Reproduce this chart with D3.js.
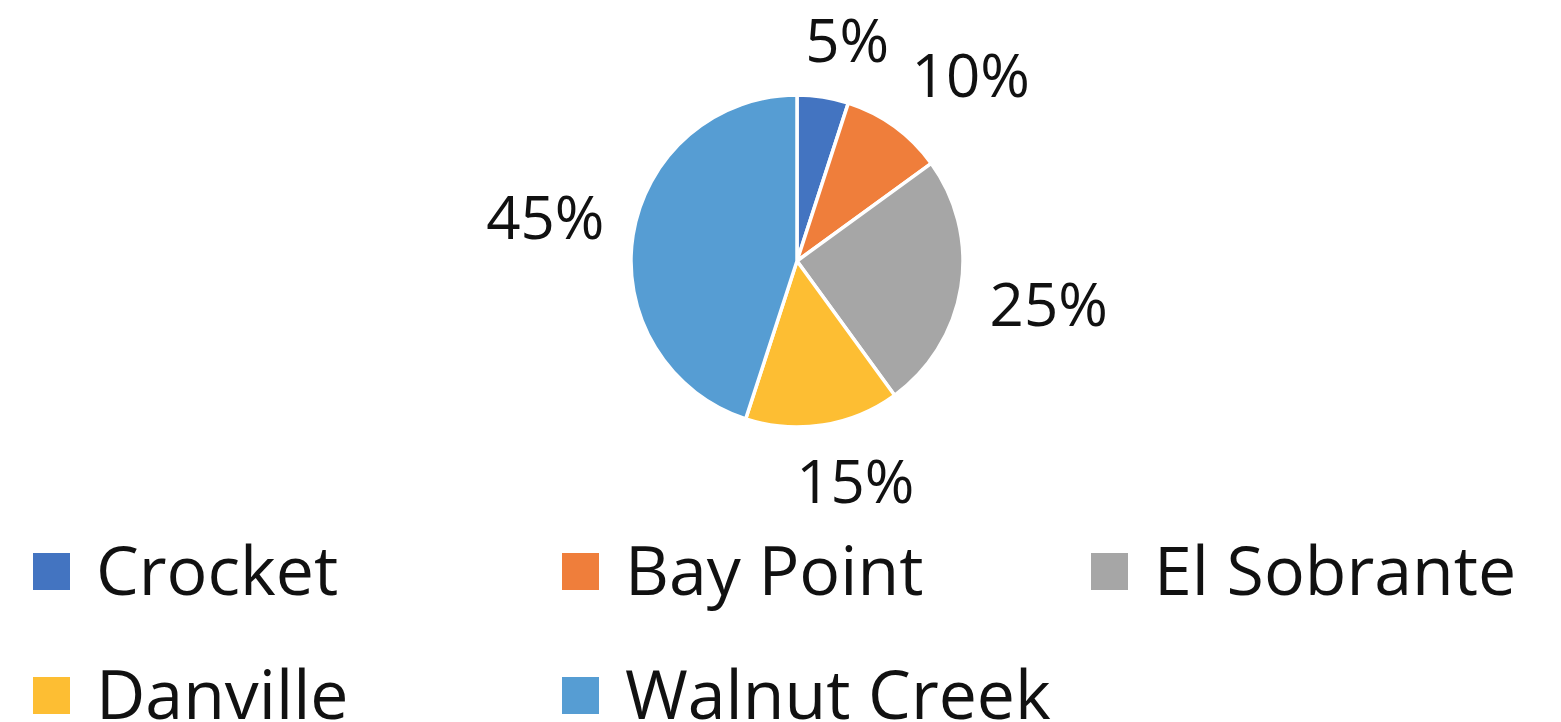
<!doctype html>
<html lang="en">
<head>
    <meta charset="utf-8">
    <title>Pie</title>
    <script src="https://d3js.org/d3.v7.min.js"></script>
    <style>
        body {
            margin: 0;
            padding: 0;
            background: #ffffff;
        }
        svg {
            display: block;
        }
        .label, .legend-text {
            font-family: 'Open Sans', sans-serif;
            fill: #111;
        }
    </style>
</head>
<body>
    <div class="home"></div>
    <script>
        // data
        const categories = ["Crocket", "Bay Point", "El Sobrante", "Danville", "Walnut Creek"];
        const values = [5, 10, 25, 15, 45];
        const colors = ["#4374c1", "#ef7e3b", "#a6a6a6", "#fdbe33", "#569dd3"];

        // window size
        const width = 1561;
        const height = 722;

        const svg = d3.select(".home").append("svg")
            .attr("width", width)
            .attr("height", height);

        // pie geometry
        const cx = 797, cy = 261, radius = 166;
        const labelSize = 60, legendSize = 68;

        const color = d3.scaleOrdinal().domain(categories).range(colors);

        const pie = d3.pie().sort(null).value(d => d.value);
        const arcs = pie(categories.map((c, i) => ({name: c, value: values[i]})));
        const arc = d3.arc().innerRadius(0).outerRadius(radius);

        const g = svg.append("g").attr("transform", `translate(${cx},${cy})`);

        g.selectAll("path")
            .data(arcs)
            .enter()
            .append("path")
            .attr("d", arc)
            .attr("fill", d => color(d.data.name))
            .attr("stroke", "#fff")
            .attr("stroke-width", 3.5)
            .attr("stroke-linejoin", "round");

        // outside-end labels: anchor point just past the rim, text box
        // pushed outward so it sits clear of the slice (excel-ish)
        const total = d3.sum(values);
        const capH = labelSize * 0.714;
        const boxH = 56;
        const anchorR = radius + 29;
        const clamp = v => Math.max(-1, Math.min(1, v * 3));
        g.selectAll("text.label")
            .data(arcs)
            .enter()
            .append("text")
            .attr("class", "label")
            .attr("text-anchor", "middle")
            .style("font-size", labelSize + "px")
            .text(d => Math.round(d.data.value / total * 100) + "%")
            .each(function (d) {
                const a = (d.startAngle + d.endAngle) / 2;
                const w = this.getComputedTextLength();
                const s = Math.sin(a), c = Math.cos(a);
                const x = s * anchorR + clamp(s) * w / 2;
                const y = -c * anchorR - clamp(c) * boxH / 2;
                d3.select(this)
                    .attr("x", x)
                    .attr("y", y + capH / 2);
            });

        // legend
        const legend = svg.append("g").attr("class", "legend");
        const item = legend.selectAll("g")
            .data(categories)
            .enter()
            .append("g")
            .attr("transform", (d, i) => `translate(${33 + (i % 3) * 529},${553 + Math.floor(i / 3) * 124})`);

        item.append("rect")
            .attr("width", 37)
            .attr("height", 37)
            .attr("fill", d => color(d));

        item.append("text")
            .attr("class", "legend-text")
            .attr("x", 63)
            .attr("y", 42)
            .style("font-size", legendSize + "px")
            .text(d => d);
    </script>
</body>
</html>
